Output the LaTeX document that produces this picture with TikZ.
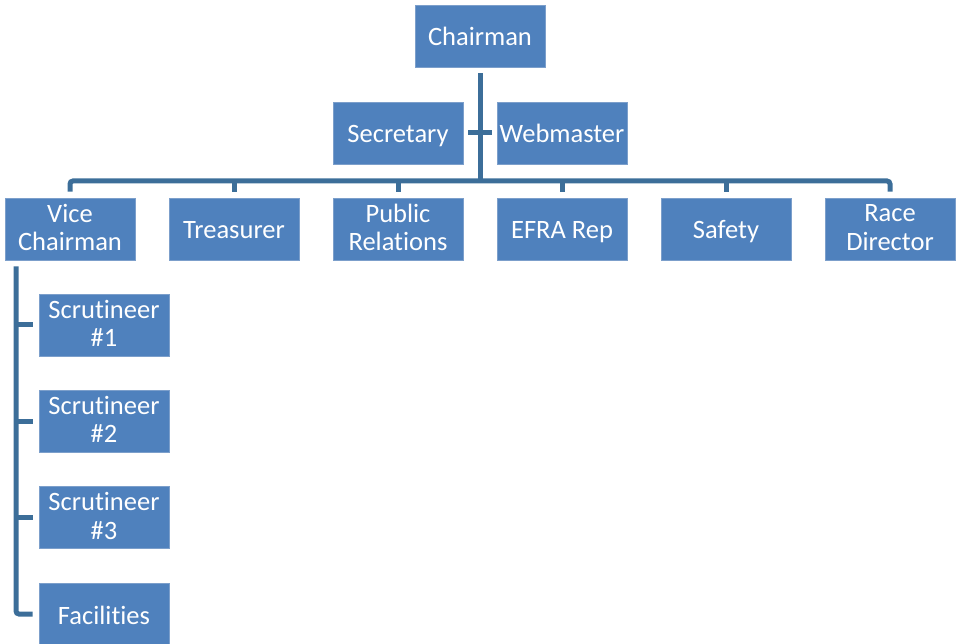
\documentclass[tikz,border=0pt]{standalone}
\usepackage{fontspec}
\setmainfont{Carlito}[Ligatures=CommonOff]
\definecolor{boxblue}{HTML}{4F81BD}
\definecolor{boxedge}{HTML}{7C9FCB}
\definecolor{linkblue}{HTML}{3C6E99}
\newcommand{\rolestrut}{\rule[-3pt]{0pt}{26pt}}
\tikzstyle{role}=[draw=boxedge,line width=0.6pt,fill=boxblue,text=white,rectangle,minimum width=130pt,minimum height=62pt,inner sep=0pt,align=center,execute at begin node=\rolestrut,execute at end node=\rolestrut,font=\fontsize{26.5}{28.5}\selectfont]
\tikzstyle{link} = [draw=linkblue,line width=5pt,rounded corners=3pt]

\begin{document}
\begin{tikzpicture}[x=1pt, y=-1pt]
    \useasboundingbox (0,0) rectangle (959,644);
    % First we draw the boxes
    \foreach \pos/\name/\label in {{(480,36)/chair/Chairman}, {(398,133)/sec/Secretary}, {(562,133)/web/Webmaster},
        {(70,229)/vice/{Vice\\Chairman}}, {(234,229)/treas/Treasurer}, {(398,229)/pr/{Public\\Relations}},
        {(562,229)/efra/EFRA Rep}, {(726,229)/safety/Safety}, {(890,229)/race/{Race\\Director}},
        {(104,325)/scra/{Scrutineer\\\#1}}, {(104,421)/scrb/{Scrutineer\\\#2}}, {(104,517.5)/scrc/{Scrutineer\\\#3}},
        {(104,614)/fac/Facilities}}
        \node[role] (\name) at \pos {\label};
    \coordinate (bar) at (0,181);
    \coordinate (spine) at (16,0);
    % Connect boxes with lines
    \path[link, shorten <=6pt] (chair.south) -- (chair.south |- bar);
    \path[link, shorten <=5pt, shorten >=5pt] (sec.east) -- (web.west);
    \path[link, shorten <=6pt, shorten >=6pt] (vice.north) -- (vice.north |- bar) -- (race.north |- bar) -- (race.north);
    \foreach \dest in {treas,pr,efra,safety}
        \path[link, shorten >=6pt] (\dest.north |- bar) -- (\dest.north);
    \path[link, shorten <=6pt, shorten >=6pt] (vice.south -| spine) -- (spine |- fac.west) -- (fac.west);
    \foreach \dest in {scra,scrb,scrc}
        \path[link, shorten >=6pt] (spine |- \dest.west) -- (\dest.west);
\end{tikzpicture}
\end{document}
